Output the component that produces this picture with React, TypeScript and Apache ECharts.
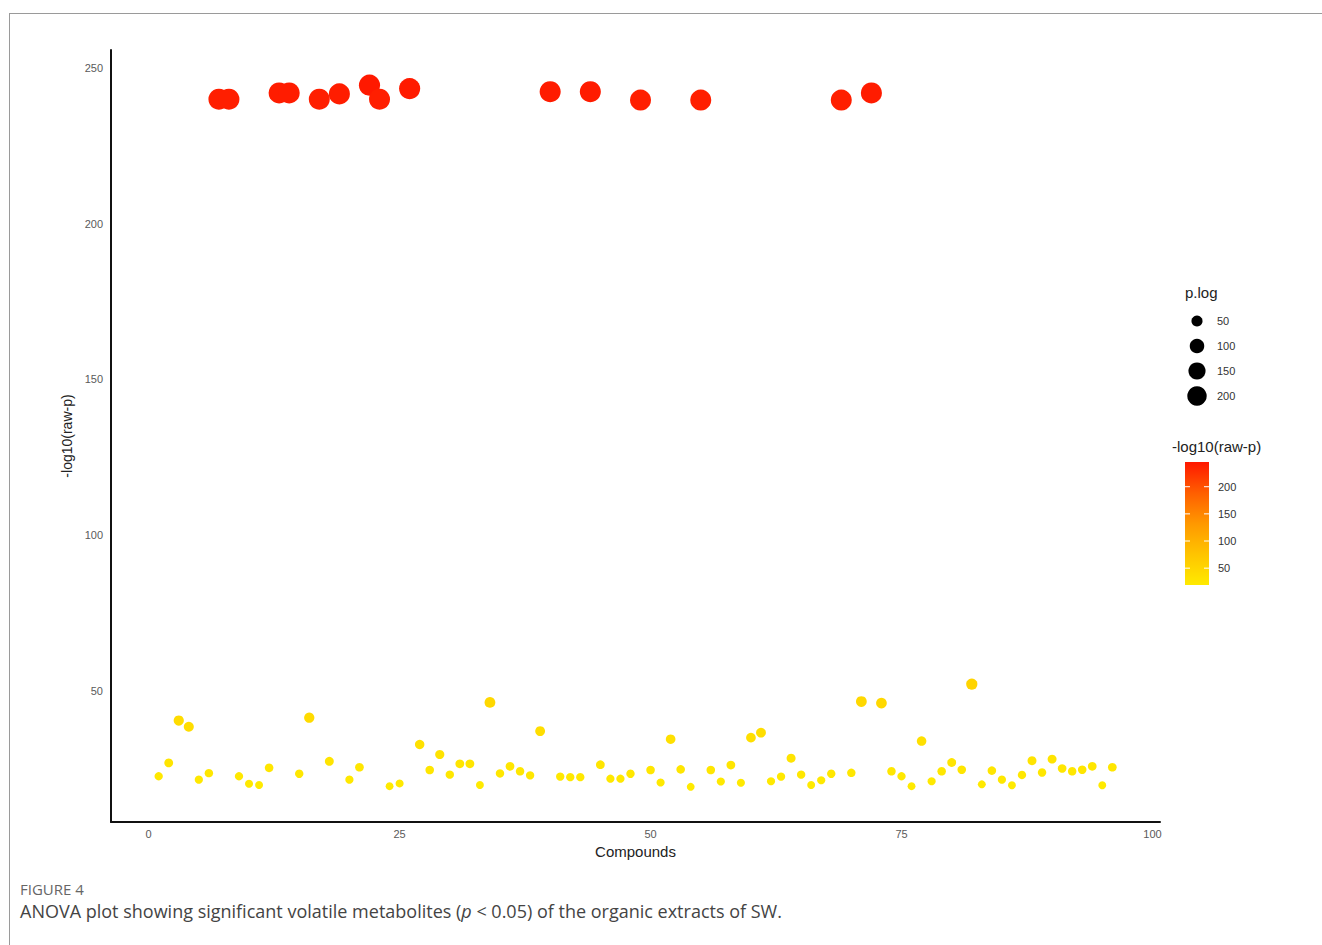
import React, { useEffect, useRef } from "react";
import * as echarts from "echarts";

// Compound index (x) and -log10(raw-p) (y)
const compounds: number[] = [
  1, 2, 3, 4, 5, 6, 7, 8, 9, 10, 11, 12, 13, 14, 15, 16, 17, 18, 19, 20,
  21, 22, 23, 24, 25, 26, 27, 28, 29, 30, 31, 32, 33, 34, 35, 36, 37, 38, 39, 40,
  41, 42, 43, 44, 45, 46, 47, 48, 49, 50, 51, 52, 53, 54, 55, 56, 57, 58, 59, 60,
  61, 62, 63, 64, 65, 66, 67, 68, 69, 70, 71, 72, 73, 74, 75, 76, 77, 78, 79, 80,
  81, 82, 83, 84, 85, 86, 87, 88, 89, 90, 91, 92, 93, 94, 95, 96,
];
const logP: number[] = [
  22.5, 26.8, 40.4, 38.4, 21.4, 23.5, 240, 240, 22.5, 20.1,
  19.7, 25.2, 242, 242, 23.3, 41.3, 240, 27.3, 241.7, 21.4,
  25.4, 244.5, 240, 19.3, 20.2, 243.4, 32.7, 24.5, 29.5, 23.0,
  26.5, 26.5, 19.7, 46.2, 23.4, 25.7, 24.1, 22.8, 37.0, 242.4,
  22.4, 22.2, 22.2, 242.4, 26.2, 21.7, 21.7, 23.3, 239.7, 24.5,
  20.5, 34.4, 24.7, 19.1, 239.7, 24.5, 20.8, 26.1, 20.4, 34.9,
  36.5, 20.9, 22.4, 28.3, 23.0, 19.7, 21.2, 23.3, 239.7, 23.6,
  46.5, 242, 46.0, 24.1, 22.5, 19.3, 33.8, 20.9, 24.1, 26.9,
  24.6, 52.1, 19.9, 24.3, 21.4, 19.6, 22.9, 27.5, 23.7, 28.0,
  25.0, 24.1, 24.6, 25.7, 19.6, 25.4,
];

const xTicks: number[] = [0, 25, 50, 75, 100];
const yTicks: number[] = [50, 100, 150, 200, 250];
const sizeLegendValues: number[] = [50, 100, 150, 200];
const colorLegendValues: number[] = [200, 150, 100, 50];
const colorStops: string[] = ["#FFEA00", "#FFC400", "#FF9800", "#FF5E00", "#FF1800"];
const colorMin = 19;
const colorMax = 245.5;

const sizeOf = (v: number) => 2.72 + 1.18 * Math.sqrt(v);

export default function App() {
  const ref = useRef<HTMLDivElement>(null);
  useEffect(() => {
    if (!ref.current) return;
    const chart = echarts.init(ref.current, undefined, { renderer: "svg" });
    const data = compounds.map((c, i) => [c, logP[i]]);

    const barX = 1185, barTop = 462, barBottom = 585, barW = 24;
    const valToBarY = (v: number) =>
      barBottom - ((v - colorMin) / (colorMax - colorMin)) * (barBottom - barTop);

    const graphics: any[] = [
      { type: "line", shape: { x1: 9, y1: 13.5, x2: 1322, y2: 13.5 }, style: { stroke: "#9a9a9a", lineWidth: 1 } },
      { type: "line", shape: { x1: 9.5, y1: 13, x2: 9.5, y2: 945 }, style: { stroke: "#9a9a9a", lineWidth: 1 } },
      { type: "text", x: 1185, y: 285, style: { text: "p.log", font: "15px 'Liberation Sans', Arial, sans-serif", fill: "#222" } },
      { type: "text", x: 1172, y: 439, style: { text: "-log10(raw-p)", font: "15px 'Liberation Sans', Arial, sans-serif", fill: "#222" } },
      {
        type: "rect",
        shape: { x: barX, y: barTop, width: barW, height: barBottom - barTop },
        style: {
          fill: new echarts.graphic.LinearGradient(0, 1, 0, 0,
            colorStops.map((c, i) => ({ offset: i / (colorStops.length - 1), color: c }))),
        },
      },
      { type: "text", x: 20, y: 881, style: { text: "FIGURE 4", font: "15px 'Open Sans', 'Liberation Sans', sans-serif", fill: "#666" } },
      {
        type: "text", x: 20, y: 902,
        style: {
          text: "ANOVA plot showing significant volatile metabolites ({i|p} < 0.05) of the organic extracts of SW.",
          font: "18px 'Open Sans', 'Liberation Sans', sans-serif",
          fill: "#444",
          rich: { i: { fontStyle: "italic", fontSize: 18, fontFamily: "'Open Sans', 'Liberation Sans', sans-serif", fill: "#444" } },
        },
      },
    ];

    sizeLegendValues.forEach((v, i) => {
      const cy = 321 + i * 25;
      graphics.push({ type: "circle", shape: { cx: 1197, cy, r: sizeOf(v) / 2 }, style: { fill: "#000" } });
      graphics.push({ type: "text", x: 1217, y: cy, style: { text: String(v), font: "11px 'Liberation Sans', Arial, sans-serif", fill: "#333", verticalAlign: "middle" } });
    });
    colorLegendValues.forEach((v) => {
      const y = valToBarY(v);
      graphics.push({ type: "line", shape: { x1: barX, y1: y, x2: barX + 5, y2: y }, style: { stroke: "#fff", lineWidth: 1 } });
      graphics.push({ type: "line", shape: { x1: barX + barW - 5, y1: y, x2: barX + barW, y2: y }, style: { stroke: "#fff", lineWidth: 1 } });
      graphics.push({ type: "text", x: 1218, y, style: { text: String(v), font: "11px 'Liberation Sans', Arial, sans-serif", fill: "#333", verticalAlign: "middle" } });
    });

    chart.setOption({
      animation: false,
      backgroundColor: "#fff",
      grid: { left: 111, top: 50, width: 1049, height: 772, containLabel: false },
      xAxis: {
        type: "value",
        min: -3.75,
        max: 100.75,
        name: "Compounds",
        nameLocation: "middle",
        nameGap: 20,
        nameTextStyle: { fontSize: 15, color: "#222", fontFamily: "'Liberation Sans', Arial, sans-serif" },
        axisLine: { show: true, onZero: false, lineStyle: { color: "#111", width: 2 } },
        axisTick: { show: false },
        splitLine: { show: false },
        axisLabel: {
          customValues: xTicks,
          margin: 6,
          fontSize: 11,
          color: "#5a5a5a",
          fontFamily: "'Liberation Sans', Arial, sans-serif",
        },
      },
      yAxis: {
        type: "value",
        min: 7.8,
        max: 255.8,
        name: "-log10(raw-p)",
        nameLocation: "middle",
        nameGap: 35,
        nameRotate: 90,
        nameTextStyle: { fontSize: 14, color: "#222", fontFamily: "'Liberation Sans', Arial, sans-serif" },
        axisLine: { show: true, onZero: false, lineStyle: { color: "#111", width: 2 } },
        axisTick: { show: false },
        splitLine: { show: false },
        axisLabel: {
          customValues: yTicks,
          margin: 8,
          fontSize: 11,
          color: "#5a5a5a",
          fontFamily: "'Liberation Sans', Arial, sans-serif",
        },
      },
      visualMap: {
        type: "continuous",
        show: false,
        dimension: 1,
        min: colorMin,
        max: colorMax,
        inRange: { color: colorStops },
        seriesIndex: 0,
      },
      series: [
        {
          type: "scatter",
          data,
          symbol: "circle",
          symbolSize: (val: number[]) => sizeOf(val[1]),
          itemStyle: { opacity: 1 },
          emphasis: { disabled: true },
        },
      ],
      graphic: graphics,
    });
    return () => chart.dispose();
  }, []);
  return <div ref={ref} style={{ position: "fixed", left: 0, top: 0, width: 1322, height: 945 }} />;
}
